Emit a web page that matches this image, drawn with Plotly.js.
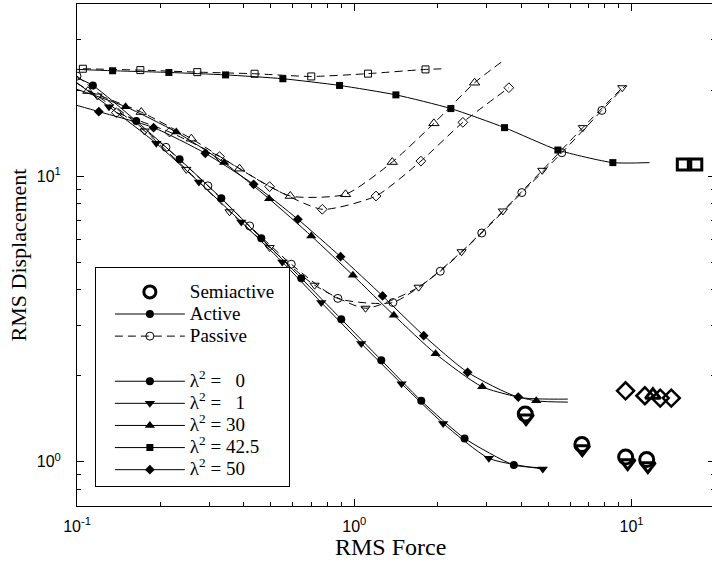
<!DOCTYPE html>
<html><head><meta charset="utf-8">
<script src="https://cdn.plot.ly/plotly-3.0.1.min.js"></script>
<style>html,body{margin:0;padding:0;overflow:hidden;background:#fff}</style>
</head><body><div id="chart" style="width:716px;height:568px"></div>
<script>
// ---------- Active (solid lines, filled markers) ----------
const act0X = [0.1, 0.1141, 0.1636, 0.2344, 0.3315, 0.4620, 0.6438, 0.8976, 1.2514, 1.7446, 2.4994, 3.763, 4.725];
const act0Y = [22.1, 20.75, 15.57, 11.44, 8.356, 6.057, 4.388, 3.155, 2.268, 1.634, 1.207, 0.974, 0.953];
const act1X = [0.1, 0.1304, 0.1932, 0.2752, 0.3914, 0.5500, 0.7604, 1.0598, 1.481, 2.092, 3.058, 4.786];
const act1Y = [21.2, 17.48, 13.01, 9.53, 6.907, 5.003, 3.608, 2.594, 1.876, 1.362, 1.028, 0.943];
const act30X = [0.1, 0.1497, 0.2281, 0.3392, 0.4930, 0.6998, 0.9885, 1.389, 1.965, 2.894, 4.532, 5.892];
const act30Y = [20.1, 17.48, 14.25, 11.14, 8.324, 6.169, 4.496, 3.258, 2.386, 1.829, 1.634, 1.617];
const act425X = [0.1, 0.1344, 0.2145, 0.3435, 0.5527, 0.8851, 1.413, 2.230, 3.483, 5.424, 8.563, 11.61];
const act425Y = [23.61, 23.36, 23.04, 22.59, 21.90, 20.75, 19.23, 17.22, 14.77, 12.33, 11.14, 11.14];
const act50X = [0.1, 0.1199, 0.1889, 0.2902, 0.4334, 0.6260, 0.8925, 1.265, 1.781, 2.563, 3.904, 5.892];
const act50Y = [17.67, 16.80, 14.77, 12.01, 9.355, 7.057, 5.219, 3.806, 2.762, 2.056, 1.684, 1.657];

// ---------- Passive (dashed lines, open markers) ----------
const pas0X = [0.1, 0.2093, 0.2965, 0.4194, 0.5926, 0.8726, 1.378, 2.042, 2.883, 4.021, 5.607, 7.815, 9.515];
const pas0Y = [22.37, 12.60, 9.241, 6.686, 4.912, 3.730, 3.608, 4.643, 6.319, 8.750, 12.07, 16.97, 20.75];
const pas1X = [0.1, 0.1186, 0.1753, 0.2478, 0.3550, 0.4951, 0.7192, 1.098, 1.706, 2.438, 3.435, 4.764, 6.674, 9.258];
const pas1Y = [21.1, 19.05, 14.37, 10.55, 7.494, 5.618, 4.148, 3.446, 4.082, 5.433, 7.545, 10.47, 14.77, 20.37];
const pas30X = [0.1095, 0.1705, 0.2584, 0.3858, 0.5877, 0.9302, 1.371, 1.937, 2.716, 3.389];
const pas30Y = [19.83, 16.74, 13.51, 10.61, 8.513, 8.630, 11.19, 15.29, 21.21, 25.03];
const pas425X = [0.1050, 0.1692, 0.2716, 0.4369, 0.6998, 1.121, 1.807, 2.134];
const pas425Y = [23.74, 23.48, 23.10, 22.80, 22.31, 22.82, 23.61, 23.74];
const pas50X = [0.1386, 0.2157, 0.3267, 0.4951, 0.7667, 1.198, 1.739, 2.464, 3.610];
const pas50Y = [16.66, 14.25, 11.69, 9.182, 7.647, 8.513, 11.28, 15.41, 20.37];

// ---------- Semiactive (large open markers) ----------
const semi0X = [4.137, 6.620, 9.524, 11.34];
const semi0Y = [1.468, 1.148, 1.038, 1.018];
const semi1X = [4.165, 6.642, 9.683, 11.45];
const semi1Y = [1.421, 1.108, 0.990, 0.966];
const semi30X = [11.94];
const semi30Y = [1.711];
const semi425X = [15.31, 17.12];
const semi425Y = [10.98, 10.98];
const semi50X = [9.515, 11.17, 12.69, 13.91];
const semi50Y = [1.771, 1.702, 1.670, 1.670];

// ---------- axis ticks / legend labels ----------
const xTickVals = [0.1, 1, 10];
const xTickText = ['10<sup>-1</sup>', '10<sup>0</sup>', '10<sup>1</sup>'];
const xMinorVals = [0.2,0.3,0.4,0.5,0.6,0.7,0.8,0.9,2,3,4,5,6,7,8,9,20];
const yTickVals = [1, 10];
const yTickText = ['10<sup>0</sup>', '10<sup>1</sup>'];
const yMinorVals = [0.7,0.8,0.9,2,3,4,5,6,7,8,9,20,30,40];
const typeLabels = ['Semiactive\u00a0\u00a0', 'Active', 'Passive'];
const lamLabels = ['λ<sup>2</sup> = \u20070', 'λ<sup>2</sup> = \u20071', 'λ<sup>2</sup> = 30', 'λ<sup>2</sup> = 42.5', 'λ<sup>2</sup> = 50'];

const SERIF = 'Liberation Serif, Times New Roman, serif';
const SANS = 'Liberation Sans, Arial, Helvetica, sans-serif';
const K = 'black';

function lineTr(x, y, dash) {
  return {x, y, type:'scatter', mode:'lines', showlegend:false, hoverinfo:'skip',
    line:{color:K, width:1, dash: dash, shape:'spline', smoothing:0.6}};
}
function markTr(x, y, symbol, size, lw) {
  return {x, y, type:'scatter', mode:'markers', showlegend:false, hoverinfo:'skip',
    marker:{symbol, size, color:K, line:{color:K, width:lw}}};
}
const DASH = '8px,5px';
const traces = [];
// active
traces.push(lineTr(act0X, act0Y, 'solid'), markTr(act0X.slice(1,12), act0Y.slice(1,12), 'circle', 8, 0));
traces.push(lineTr(act1X, act1Y, 'solid'), markTr(act1X.slice(1), act1Y.slice(1), 'triangle-down', 9, 0));
traces.push(lineTr(act30X, act30Y, 'solid'), markTr(act30X.slice(1,-1), act30Y.slice(1,-1), 'triangle-up', 9, 0));
traces.push(lineTr(act425X, act425Y, 'solid'), markTr(act425X.slice(1,-1), act425Y.slice(1,-1), 'square', 7, 0));
traces.push(lineTr(act50X, act50Y, 'solid'), markTr(act50X.slice(1,-1), act50Y.slice(1,-1), 'diamond', 7.5, 0));
// passive
traces.push(lineTr(pas0X, pas0Y, DASH), markTr(pas0X.slice(0,-1), pas0Y.slice(0,-1), 'circle-open', 8, 1));
traces.push(lineTr(pas1X, pas1Y, DASH), markTr(pas1X.slice(1), pas1Y.slice(1), 'triangle-down-open', 8, 1));
traces.push(lineTr(pas30X, pas30Y, DASH), markTr(pas30X.slice(0,-1), pas30Y.slice(0,-1), 'triangle-up-open', 9, 1));
traces.push(lineTr(pas425X, pas425Y, DASH), markTr(pas425X.slice(0,-1), pas425Y.slice(0,-1), 'square-open', 7, 1));
traces.push(lineTr(pas50X, pas50Y, DASH), markTr(pas50X, pas50Y, 'diamond-open', 7.5, 1));
// semiactive
traces.push(markTr(semi0X, semi0Y, 'circle-open', 14, 3));
traces.push(markTr(semi1X, semi1Y, 'triangle-down-open', 13, 3));
traces.push(markTr(semi30X, semi30Y, 'triangle-up-open', 13, 3));
traces.push(markTr(semi425X, semi425Y, 'square-open', 11, 3));
traces.push(markTr(semi50X, semi50Y, 'diamond-open', 13, 2.5));

// legend entries
const LEGPX = 19;
function legTr(name, group, mode, dash, symbol, size, lw) {
  return {x:[null], y:[null], type:'scatter', legendgroup:group, mode, hoverinfo:'skip',
    name: '<span style="font-size:' + LEGPX + 'px">' + name + '</span>',
    line:{color:K, width:1, dash}, marker:{symbol, size, color:K, line:{color:K, width:lw}}};
}
traces.push(legTr(typeLabels[0], 'a', 'markers', 'solid', 'circle-open', 12, 3));
traces.push(legTr(typeLabels[1], 'a', 'lines+markers', 'solid', 'circle', 8, 0));
traces.push(legTr(typeLabels[2], 'a', 'lines+markers', DASH, 'circle-open', 8, 1));
const lamSyms = ['circle', 'triangle-down', 'triangle-up', 'square', 'diamond'];
const lamSizes = [8, 9, 9, 7, 7.5];
lamLabels.forEach((n, i) => traces.push(legTr(n, 'b', 'lines+markers', 'solid', lamSyms[i], lamSizes[i], 0)));

const layout = {
  width: 716, height: 568,
  margin: {l: 77, r: 1, t: 4, b: 62},
  paper_bgcolor: 'white', plot_bgcolor: 'white',
  font: {family: SANS, size: 16, color: K},
  showlegend: true,
  legend: {x: 0.028, y: 0.476, xanchor: 'left', yanchor: 'top', bgcolor: 'white',
    bordercolor: K, borderwidth: 1, font: {family: SERIF, size: 14.7, color: K},
    title: {text: '\u00a0', font: {family: SERIF, size: 6, color: K}},
    traceorder: 'grouped', tracegroupgap: 23, itemwidth: 70, indentation: 14},
  xaxis: {type: 'log', range: [-1, Math.log10(20)], autorange: false,
    tickmode: 'array', tickvals: xTickVals, ticktext: xTickText,
    ticks: 'inside', ticklen: 7, tickwidth: 1, tickcolor: K,
    showline: true, linecolor: K, linewidth: 1, mirror: 'allticks',
    showgrid: false, zeroline: false, automargin: false, ticklabelstandoff: 6,
    tickfont: {family: SANS, size: 16, color: K},
    minor: {tickmode: 'array', tickvals: xMinorVals, ticks: 'inside', ticklen: 4, tickwidth: 1, tickcolor: K, showgrid: false}},
  yaxis: {type: 'log', range: [Math.log10(0.7), Math.log10(40)], autorange: false,
    tickmode: 'array', tickvals: yTickVals, ticktext: yTickText,
    ticks: 'inside', ticklen: 7, tickwidth: 1, tickcolor: K,
    showline: true, linecolor: K, linewidth: 1, mirror: 'allticks',
    showgrid: false, zeroline: false, automargin: false, ticklabelstandoff: 12,
    tickfont: {family: SANS, size: 16, color: K},
    title: {text: 'RMS Displacement', font: {family: SERIF, size: 22, color: K}, standoff: 4},
    minor: {tickmode: 'array', tickvals: yMinorVals, ticks: 'inside', ticklen: 4, tickwidth: 1, tickcolor: K, showgrid: false}},
  annotations: [{text: 'RMS Force', xref: 'paper', yref: 'paper', x: 0.491, y: -0.0817,
    xanchor: 'center', yanchor: 'middle', showarrow: false, font: {family: SERIF, size: 24, color: K}}]
};
Plotly.newPlot('chart', traces, layout, {staticPlot: true, displayModeBar: false});
</script></body></html>
